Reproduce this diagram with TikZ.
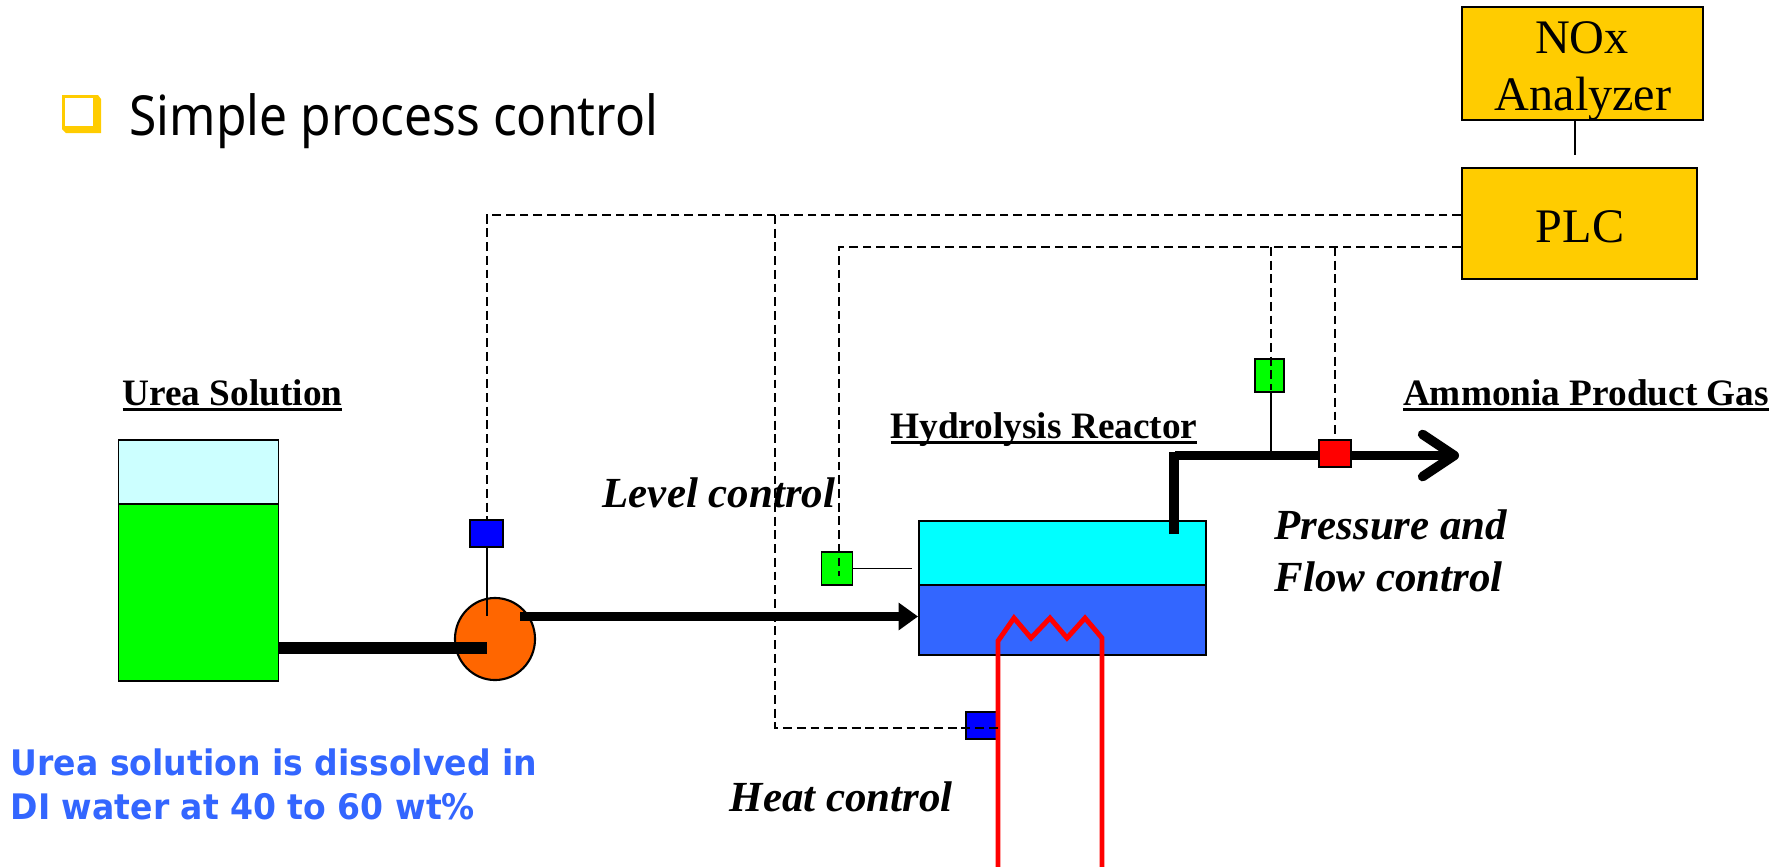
\documentclass[tikz,border=0pt]{standalone}
\usepackage{fontspec}
\setmainfont{Liberation Serif}
\newfontfamily\slidefont[FakeStretch=0.9]{Noto Sans}
\newfontfamily\slidebold[FakeStretch=0.94]{DejaVu Sans}
\usetikzlibrary{arrows.meta,shapes.geometric}
\definecolor{boxyellow}{HTML}{FFCC00}
\definecolor{reactorblue}{HTML}{3366FF}
\definecolor{pumporange}{HTML}{FF6600}
\definecolor{airblue}{HTML}{CCFFFF}
\definecolor{vaporcyan}{HTML}{00FFFF}
\definecolor{ureagreen}{HTML}{00FF00}
\definecolor{probeblue}{HTML}{0000FF}
\definecolor{probered}{HTML}{FF0000}
\newcommand{\ultext}[1]{\setbox0\hbox{#1}\rlap{\rule[-1.7pt]{\wd0}{0.9pt}}\box0}
\tikzset{
  vessel/.style={draw=black, line width=0.5pt, inner sep=0, rectangle},
  ctrlbox/.style={vessel, fill=boxyellow},
  boxtext/.style={anchor=base, inner sep=0, font=\fontsize{13.7}{16}\selectfont},
  sensor/.style={vessel, minimum width=0.30cm, minimum height=0.31cm},
  signal/.style={line width=0.5pt, dash pattern=on 2.5pt off 1.4pt},
  wire/.style={line width=0.5pt},
  pipe/.style={line width=#1, line cap=butt},
  heater/.style={probered, line width=1.4pt},
  tag/.style={anchor=base, inner sep=0, font=\fontsize{10.6}{12}\selectfont\bfseries},
  note/.style={anchor=base west, inner sep=0, font=\fontsize{12.2}{14}\selectfont\bfseries\itshape},
  bluenote/.style={anchor=base west, inner sep=0, text=reactorblue, font=\slidebold\fontsize{10}{12}\selectfont\bfseries},
}

\begin{document}
\begin{tikzpicture}[x=0.01cm, y=-0.01cm]
  \useasboundingbox (0,0) rectangle (1787,866);

  \fill[boxyellow] (62,95) -- (98,95) -- (101,99) -- (101,133) -- (66,133) -- (62,129) -- cycle;
  \fill[white] (65,97.5) rectangle (93,126);
  \node (title) [anchor=base west, inner sep=0, font=\slidefont\fontsize{15.7}{18}\selectfont] at (129,135) {Simple process control};

  \node (nox) [ctrlbox, minimum width=2.41cm, minimum height=1.13cm] at (1582.5,63.5) {};
  \node (noxa) [boxtext] at (1582,53) {NOx};
  \node (noxb) [boxtext] at (1583,110) {Analyzer};
  \node (plc) [ctrlbox, minimum width=2.35cm, minimum height=1.11cm] at (1579.5,223.5) {};
  \node (plct) [boxtext] at (1580,242) {PLC};
  \coordinate (plcend) at (1575,155);
  \draw[wire] (nox.south -| plcend) -- (plcend);

  \node (gas) [vessel, fill=airblue, minimum width=1.60cm, minimum height=0.64cm] at (198.5,472) {};
  \node (tank) [vessel, fill=ureagreen, minimum width=1.60cm, minimum height=1.77cm] at (198.5,592.5) {};
  \node (pump) [ellipse, draw=black, line width=0.6pt, fill=pumporange, inner sep=0, minimum width=0.80cm, minimum height=0.82cm] at (495,639) {};

  \coordinate (pumpin) at (487,648);
  \coordinate (pumpout) at (520,616.5);
  \coordinate (pumpprobe) at (487,616);
  \draw[pipe=3.3pt] (tank.east |- pumpin) -- (pumpin);

  \node (top) [vessel, fill=vaporcyan, minimum width=2.87cm, minimum height=0.64cm] at (1062.5,553) {};
  \node (liquid) [vessel, fill=reactorblue, minimum width=2.87cm, minimum height=0.70cm] at (1062.5,620) {};
  \draw[pipe=2.6pt, -{Triangle[length=5.5pt, width=7.5pt]}] (pumpout) -- (liquid.west |- pumpout);

  \coordinate (gasdip) at (1174,534);
  \coordinate (gastop) at (1174,452);
  \coordinate (gasbend) at (1175,455.5);
  \coordinate (gasend) at (1459,455.5);
  \draw[pipe=3.1pt] (gasdip) -- (gastop);
  \draw[pipe=2.7pt, -{Straight Barb[length=9pt, width=12pt, round]}] (gasbend) -- (gasend);

  \node (fpump) [sensor, fill=probeblue, minimum width=0.33cm, minimum height=0.27cm] at (486.5,533.5) {};
  \node (flevel) [sensor, fill=ureagreen, minimum width=0.31cm, minimum height=0.33cm] at (837,568.5) {};
  \node (fheat) [sensor, fill=probeblue, minimum width=0.31cm, minimum height=0.27cm] at (981.5,725.5) {};
  \node (fflow) [sensor, fill=ureagreen, minimum width=0.29cm, minimum height=0.33cm] at (1269.5,375.5) {};
  \node (fpress) [sensor, fill=probered, minimum width=0.32cm, minimum height=0.27cm] at (1335,453.5) {};

  \coordinate (coila) at (998,641);
  \coordinate (coilb) at (1102,641);
  \coordinate (coilc) at (998,870);
  \coordinate (coild) at (1102,870);
  \draw[heater] (coilc) -- (coila) -- (1014,618) -- (1031,638) -- (1050,618) -- (1067,638) -- (1085,618) -- (1102,638) -- (coilb) -- (coild);

  \coordinate (plcup) at (plc.west |- 0,215);
  \coordinate (plclow) at (plc.west |- 0,247);
  \coordinate (upcorner) at (487,215);
  \coordinate (upsplit) at (775,215);
  \coordinate (heatcorner) at (775,728);
  \coordinate (heatend) at (998,728);
  \coordinate (lowcorner) at (839,247);
  \coordinate (levelend) at (839,576);
  \coordinate (flowsplit) at (1271,247);
  \coordinate (flowend) at (1271,390);
  \coordinate (presssplit) at (1335,247);
  \coordinate (levelprobe) at (912,568.5);
  \draw[signal] (plcup) -- (upcorner) -- (fpump.north -| upcorner);
  \draw[signal] (upsplit) -- (heatcorner) -- (heatend);
  \draw[signal] (plclow) -- (lowcorner) -- (levelend);
  \draw[signal] (flowsplit) -- (flowend);
  \draw[signal] (presssplit) -- (fpress.north);
  \draw[wire] (fpump.south -| pumpprobe) -- (pumpprobe);
  \draw[wire] (flevel.east) -- (levelprobe);
  \draw[wire] (fflow.south -| flowend) -- (flowend |- gasbend);

  \node (lurea) [tag] at (232.5,405) {\ultext{Urea Solution}};
  \node (lreact) [tag] at (1044,438) {\ultext{Hydrolysis Reactor}};
  \node (lamm) [tag] at (1586,405) {\ultext{Ammonia Product Gas}};
  \node (llevel) [note] at (602,507) {Level control};
  \node (lpress) [note] at (1274,539) {Pressure and};
  \node (lflow) [note] at (1274,591) {Flow control};
  \node (lheat) [note] at (729,811) {Heat control};
  \node (lnotea) [bluenote] at (10,775) {Urea solution is dissolved in};
  \node (lnoteb) [bluenote] at (10,819) {DI water at 40 to 60 wt\%};
\end{tikzpicture}
\end{document}
